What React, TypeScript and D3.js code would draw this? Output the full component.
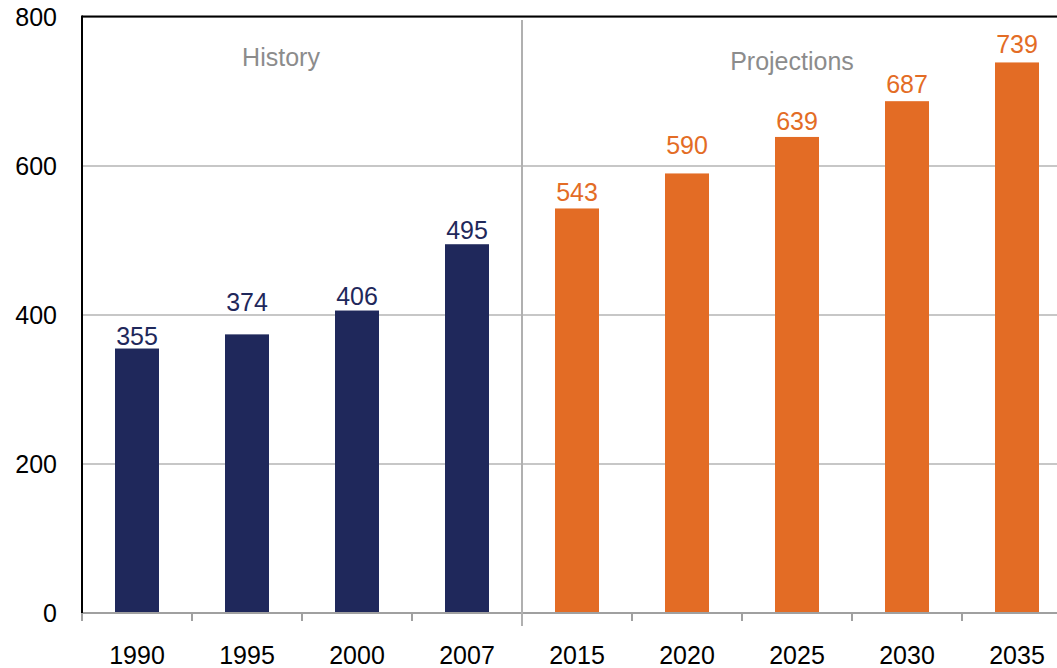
import React from "react";
import * as d3 from "d3";

const categories = ["1990", "1995", "2000", "2007", "2015", "2020", "2025", "2030", "2035"];
const values = [355, 374, 406, 495, 543, 590, 639, 687, 739];
const isProjection = [false, false, false, false, true, true, true, true, true];
const yTicks = [0, 200, 400, 600, 800];
const sectionLabels = ["History", "Projections"];

// label gap above each bar (px), as placed in the reference
const labelGap = [4, 23, 6, 5, 7, 19, 7, 8, 9];

const W = 1057;
const H = 668;
const NAVY = "#1f285b";
const ORANGE = "#e36c25";
const GRID = "#b4b4b4";
const FONT = "'Liberation Sans', Arial, sans-serif";

export default function App() {
  const left = 82;
  const top = 17;
  const bottom = 613;
  const x = d3.scaleBand<string>().domain(categories).range([left, 1072]).paddingInner(0.6).paddingOuter(0.3);
  const y = d3.scaleLinear().domain([0, 800]).range([bottom, top]);
  const step = x.step();
  const bw = x.bandwidth();
  const boundary = (i: number) => (x(categories[i]) as number) - (step - bw) / 2;
  const dividerX = boundary(4);

  return (
    <svg width={W} height={H} style={{ position: "absolute", left: 0, top: 0 }} fontFamily={FONT}>
      <rect width={W} height={H} fill="#fff" />
      {yTicks.filter((t) => t > 0).map((t) => (
        <line key={t} x1={left} x2={W} y1={y(t)} y2={y(t)} stroke={GRID} strokeWidth={1.5} />
      ))}
      {categories.map((c, i) => (
        <rect
          key={c}
          x={x(c)}
          y={y(values[i])}
          width={bw}
          height={y(0) - y(values[i])}
          fill={isProjection[i] ? ORANGE : NAVY}
        />
      ))}
      <line x1={left} x2={W} y1={y(0)} y2={y(0)} stroke="#a0a0a0" strokeWidth={2} />
      {categories.map((c, i) => (
        <line key={"t" + c} x1={boundary(i)} x2={boundary(i)} y1={y(0)} y2={y(0) + 8} stroke="#a0a0a0" strokeWidth={2} />
      ))}
      <line x1={dividerX} x2={dividerX} y1={top + 3} y2={626} stroke="#b0b0b0" strokeWidth={2} />
      <line x1={left} x2={W} y1={top - 0.5} y2={top - 0.5} stroke="#000" strokeWidth={2} />
      <line x1={left} x2={left} y1={top - 1.5} y2={y(0)} stroke="#000" strokeWidth={2} />
      {yTicks.map((t) => (
        <text key={"yl" + t} x={57} y={y(t)} dy="0.36em" textAnchor="end" fontSize={25} fill="#000">
          {t}
        </text>
      ))}
      {categories.map((c) => (
        <text key={"xl" + c} x={(x(c) as number) + bw / 2} y={664} textAnchor="middle" fontSize={25} fill="#000">
          {c}
        </text>
      ))}
      {categories.map((c, i) => (
        <text
          key={"v" + c}
          x={(x(c) as number) + bw / 2}
          y={y(values[i]) - labelGap[i]}
          textAnchor="middle"
          fontSize={25}
          fill={isProjection[i] ? ORANGE : NAVY}
        >
          {values[i]}
        </text>
      ))}
      <text x={281} y={66} textAnchor="middle" fontSize={25} fill="#8c8c8c">
        {sectionLabels[0]}
      </text>
      <text x={792} y={70} textAnchor="middle" fontSize={25} fill="#8c8c8c">
        {sectionLabels[1]}
      </text>
    </svg>
  );
}
